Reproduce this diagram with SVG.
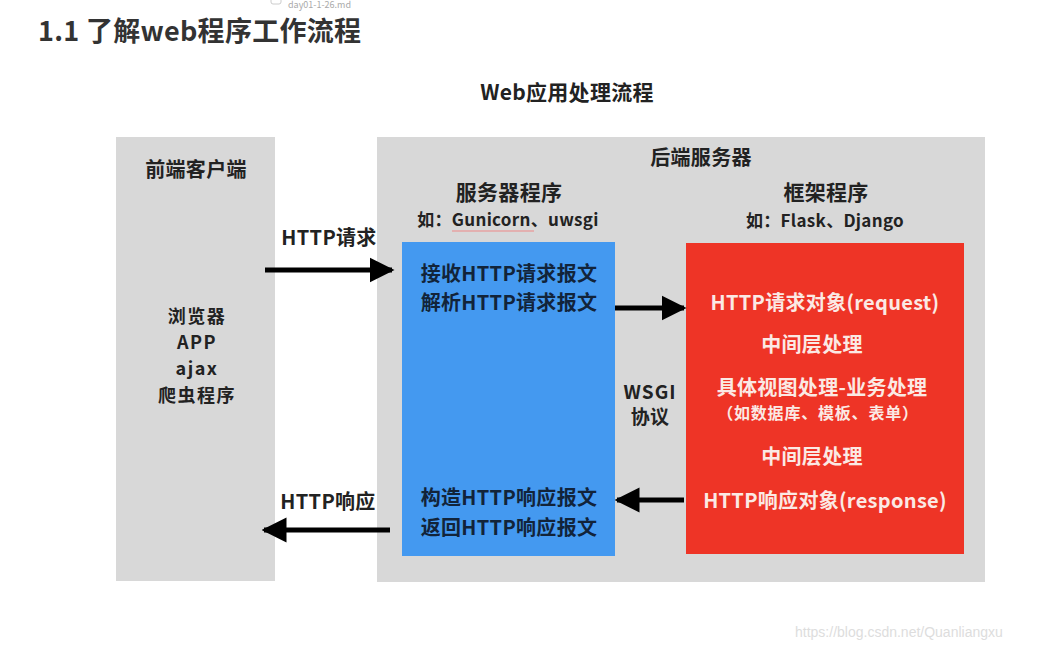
<svg xmlns="http://www.w3.org/2000/svg" width="1039" height="649" viewBox="0 0 1039 649">
<style>
text{font-family:"Noto Sans CJK SC","Liberation Sans",sans-serif;font-weight:bold;letter-spacing:0.3px}
.c{text-anchor:middle}
.dk{fill:#222}
.bl{fill:#12243a}
.wt{fill:#fbe9e4}
.box{fill:#d8d8d8}
.ln{stroke:#000;stroke-width:5;fill:none}
.ls{font-size:18px;letter-spacing:1.5px}
</style>
<defs>
<marker id="ah" viewBox="0 0 10 10" refX="9" refY="5" markerWidth="5" markerHeight="5.4" orient="auto" markerUnits="strokeWidth">
<path d="M0,0 L10,5 L0,10 Z" fill="#000"/>
</marker>
</defs>
<rect width="1039" height="649" fill="#fff"/>
<g id="header">
<rect x="271" y="-6" width="10" height="10" rx="2" fill="none" stroke="#ccc"/>
<text x="288" y="8" font-size="9" fill="#aaa" style="font-weight:normal;letter-spacing:0">day01-1-26.md</text>
<text x="38" y="41" font-size="27" fill="#333">1.1 了解web程序工作流程</text>
<text x="567" y="100" font-size="21" class="c dk">Web应用处理流程</text>
</g>
<g id="frontend">
<rect x="116" y="137" width="159" height="444" class="box"/>
<text x="196" y="177" font-size="20" class="c dk">前端客户端</text>
<text x="197" y="323" class="c dk ls">浏览器</text>
<text x="197" y="349" class="c dk ls">APP</text>
<text x="197" y="375" class="c dk ls">ajax</text>
<text x="197" y="402" class="c dk ls">爬虫程序</text>
</g>
<g id="backend">
<rect x="377" y="137" width="608" height="445" class="box"/>
<text x="701" y="165" font-size="20" class="c dk">后端服务器</text>
<text x="509" y="200" font-size="21" class="c dk">服务器程序</text>
<text x="508" y="226" font-size="17" class="c dk">如：Gunicorn、uwsgi</text>
<path d="M452,231 H534" stroke="#e88" stroke-width="1"/>
<text x="826" y="200" font-size="21" class="c dk">框架程序</text>
<text x="825" y="227" font-size="17" class="c dk">如：Flask、Django</text>
<text x="650" y="399" font-size="19" class="c dk" style="letter-spacing:1px">WSGI</text>
<text x="650" y="424" font-size="19" class="c dk">协议</text>
</g>
<g id="server">
<rect x="402" y="242" width="213" height="314" fill="#4499f0"/>
<text x="509" y="281" font-size="20" class="c bl">接收HTTP请求报文</text>
<text x="509" y="310" font-size="20" class="c bl">解析HTTP请求报文</text>
<text x="509" y="505" font-size="20" class="c bl">构造HTTP响应报文</text>
<text x="509" y="535" font-size="20" class="c bl">返回HTTP响应报文</text>
</g>
<g id="framework">
<rect x="686" y="243" width="278" height="311" fill="#ee3426"/>
<text x="825" y="310" font-size="20" class="c wt">HTTP请求对象(request)</text>
<text x="812" y="352" font-size="20" class="c wt">中间层处理</text>
<text x="822" y="395" font-size="20" class="c wt">具体视图处理-业务处理</text>
<text x="818" y="419" font-size="16" class="c wt" style="letter-spacing:0.8px">（如数据库、模板、表单）</text>
<text x="812" y="464" font-size="20" class="c wt">中间层处理</text>
<text x="825" y="508" font-size="20" class="c wt">HTTP响应对象(response)</text>
</g>
<g id="connectors">
<path d="M265,270 H392" class="ln" marker-end="url(#ah)"/>
<text x="329" y="245" font-size="20" class="c dk">HTTP请求</text>
<path d="M615,308 H684" class="ln" marker-end="url(#ah)"/>
<path d="M684,500 H617" class="ln" marker-end="url(#ah)"/>
<path d="M390,530 H264" class="ln" marker-end="url(#ah)"/>
<text x="328" y="509" font-size="20" class="c dk">HTTP响应</text>
</g>
<text x="795" y="637" font-size="14" fill="#ddd" style="font-weight:normal;letter-spacing:0;font-family:'Liberation Sans',sans-serif">https://blog.csdn.net/Quanliangxu</text>
</svg>
